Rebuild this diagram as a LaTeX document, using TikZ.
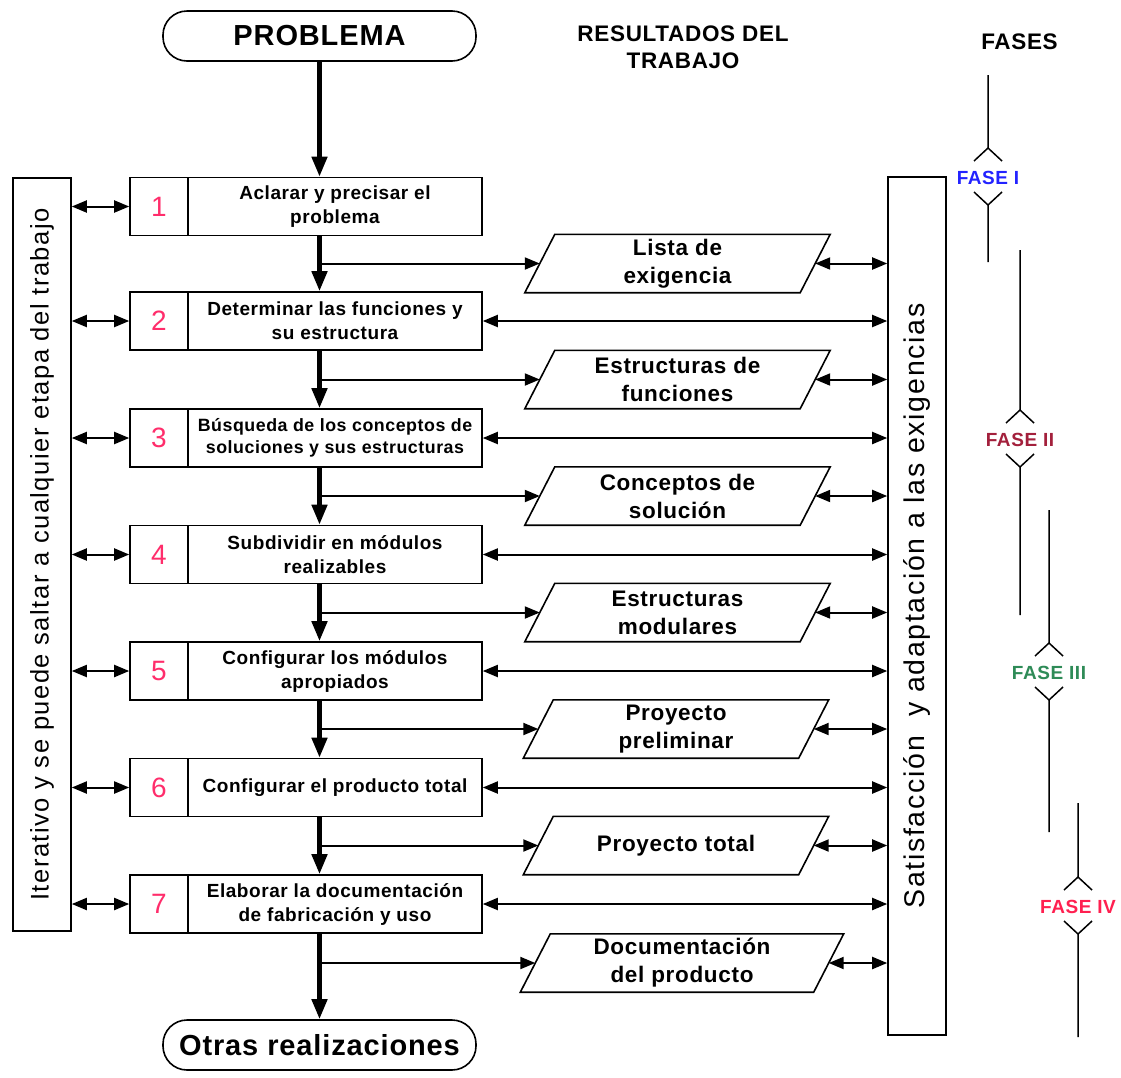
\documentclass[tikz,border=0pt]{standalone}
\usepackage{fontspec}
\setmainfont{Liberation Sans}[LetterSpace=3]
\usetikzlibrary{arrows.meta,calc}
\newcommand{\fsz}[2]{\fontsize{#1}{#2}\selectfont}
\definecolor{numred}{HTML}{FF2D6B}
\definecolor{faseone}{HTML}{2323FF}
\definecolor{fasetwo}{HTML}{A3203C}
\definecolor{fasethree}{HTML}{2E8B57}
\definecolor{fasefour}{HTML}{FF2050}
\newcommand{\paral}[1]{\draw[outline] ($(#1.south west)+(-15,0)$) -- ($(#1.north west)+(15,0)$) -- ($(#1.north east)+(15,0)$) -- ($(#1.south east)+(-15,0)$) -- cycle;}
% #1 x, #2 top, #3 upper vertex, #4 bottom, #5 colour, #6 label, #7 name
\newcommand{\phaseline}[7]{%
  \node[faselbl, text=#5] (#7) at (#1,#3+30) {#6};
  \draw[phaseln] (#1,#2) -- (#1,#3) (#1-14,#3+13) -- (#1,#3) -- (#1+14,#3+13);
  \draw[phaseln] (#1-14,#3+44) -- (#1,#3+57) -- (#1+14,#3+44) (#1,#3+57) -- (#1,#4);
}
\begin{document}
\begin{tikzpicture}[x=1pt,y=-1pt,
  outline/.style={line width=1.6pt},
  box/.style={draw, line width=1.6pt, inner sep=0pt},
  numbox/.style={box, minimum width=58pt, minimum height=58pt, text=numred, font=\fsz{28}{30}},
  txtbox/.style={box, minimum width=294pt, minimum height=58pt, align=center, font=\bfseries\fsz{19}{24}},
  terminal/.style={box, rounded corners=24pt, minimum width=313pt, minimum height=50pt, font=\bfseries\fsz{29}{30}},
  result/.style={inner sep=0pt, minimum width=275pt, minimum height=58pt, align=center, font=\bfseries\fsz{22.5}{28}},
  sidebox/.style={box, rotate=90, minimum height=58pt},
  header/.style={align=center, font=\bfseries\fsz{22.5}{27}},
  faselbl/.style={inner sep=1pt, font=\bfseries\fsz{19}{20}},
  phaseln/.style={line width=1.5pt},
  mainarr/.style={line width=4.5pt, -{Triangle[length=20pt,width=15pt]}},
  sidearr/.style={line width=2pt, -{Triangle[length=15pt,width=12pt]}},
  dblarr/.style={line width=2pt, {Triangle[length=15pt,width=12pt]}-{Triangle[length=15pt,width=12pt]}}
]
\useasboundingbox (0,0) rectangle (1121,1077);
\fill[white] (0,0) rectangle (1121,1077);

% headers
\node[terminal] (prob) at (319.5,36) {PROBLEMA};
\node[header] (res) at (683,47) {RESULTADOS DEL\\TRABAJO};
\node[header] (fases) at (1019.5,42) {FASES};

% side boxes
\node[sidebox, minimum width=753pt, font=\addfontfeature{LetterSpace=6}\fsz{25.5}{28}] (lbox) at (42,554.5) {Iterativo y se puede saltar a cualquier etapa del trabajo};
\node[sidebox, minimum width=858pt, font=\addfontfeature{LetterSpace=6}\fsz{28.5}{30}] (rbox) at (917,606) {Satisfacción~ y adaptación a las exigencias};

% steps
\node[numbox] (n1) at (159,206.5) {1};
\node[txtbox] (t1) at (335,206.5) {Aclarar y precisar el\\problema};
\node[numbox] (n2) at (159,321) {2};
\node[txtbox] (t2) at (335,321) {Determinar las funciones y\\su estructura};
\node[numbox] (n3) at (159,438) {3};
\node[txtbox, font=\bfseries\fsz{17.8}{22}] (t3) at (335,438) {Búsqueda de los conceptos de\\soluciones y sus estructuras};
\node[numbox] (n4) at (159,554.5) {4};
\node[txtbox] (t4) at (335,554.5) {Subdividir en módulos\\realizables};
\node[numbox] (n5) at (159,671) {5};
\node[txtbox] (t5) at (335,671) {Configurar los módulos\\apropiados};
\node[numbox] (n6) at (159,787.5) {6};
\node[txtbox] (t6) at (335,787.5) {Configurar el producto total};
\node[numbox] (n7) at (159,904) {7};
\node[txtbox] (t7) at (335,904) {Elaborar la documentación\\de fabricación y uso};

\node[terminal] (otras) at (319.5,1045) {Otras realizaciones};

% results
\node[result] (p1) at (677.5,263.5) {Lista de\\exigencia};
\node[result] (p2) at (677.5,379.5) {Estructuras de\\funciones};
\node[result] (p3) at (677.5,496) {Conceptos de\\solución};
\node[result] (p4) at (677.5,612.5) {Estructuras\\modulares};
\node[result] (p5) at (676,729) {Proyecto\\preliminar};
\node[result] (p6) at (676,845.5) {Proyecto total};
\node[result, minimum width=293pt] (p7) at (682,963) {Documentación\\del producto};
\foreach \p in {p1,p2,p3,p4,p5,p6,p7} {\paral{\p}}

% main flow
\draw[mainarr] (prob.south) -- (prob.south |- t1.north);
\foreach \a/\b in {t1/t2,t2/t3,t3/t4,t4/t5,t5/t6,t6/t7}
  \draw[mainarr] (prob.south |- \a.south) -- (prob.south |- \b.north);
\draw[mainarr] (prob.south |- t7.south) -- (otras.north);

% branches to results
\foreach \p in {p1,p2,p3,p4,p5,p6,p7} {
  \draw[sidearr] (prob.south |- \p.west) -- (\p.west);
  \draw[dblarr] (\p.east) -- (rbox.north |- \p.east);
}

% left links
\foreach \n in {n1,n2,n3,n4,n5,n6,n7}
  \draw[dblarr] (lbox.south |- \n.west) -- (\n.west);
% right links
\foreach \t in {t2,t3,t4,t5,t6,t7}
  \draw[dblarr] (\t.east) -- (rbox.north |- \t.east);

% phases
\phaseline{988}{75}{148}{262}{faseone}{FASE I}{f1}
\phaseline{1020}{250}{410}{615}{fasetwo}{FASE II}{f2}
\phaseline{1049}{510}{643}{832}{fasethree}{FASE III}{f3}
\phaseline{1078}{803}{877}{1037}{fasefour}{FASE IV}{f4}
\end{tikzpicture}
\end{document}
